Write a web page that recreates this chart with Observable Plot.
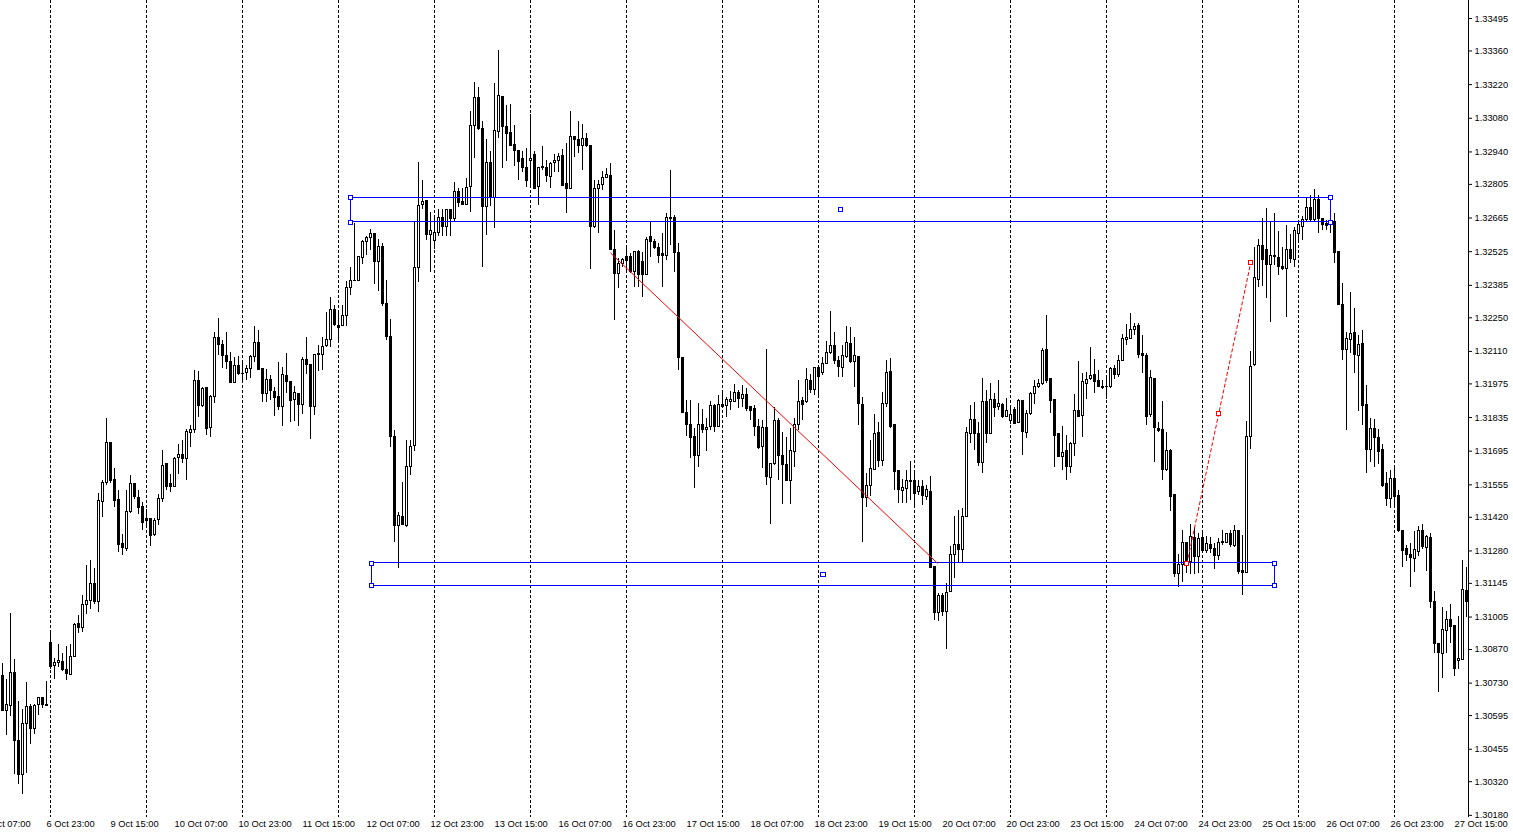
<!DOCTYPE html>
<html><head><meta charset="utf-8">
<script src="https://cdn.jsdelivr.net/npm/d3@7"></script>
<script src="https://cdn.jsdelivr.net/npm/@observablehq/plot@0.6"></script>
<style>body{margin:0;background:#fff;overflow:hidden}</style>
</head><body><div id="chart"></div>
<script>
// ---------- data (hourly bars, first bar = 6 Oct 12:00) ----------
const firstBar = "6 Oct 12:00";
const open = [
1.30761,1.30615,1.30634,1.30774,1.30490,1.30349,1.30561,1.30629,1.30539,1.30640,
1.30670,1.30640,1.30899,1.30802,1.30815,1.30819,1.30783,1.30765,1.30840,1.30974,
1.30960,1.31053,1.31071,1.31142,1.31067,1.31485,1.31562,1.31727,1.31577,1.31490,
1.31307,1.31289,1.31440,1.31557,1.31501,1.31461,1.31411,1.31411,1.31346,1.31410,
1.31495,1.31640,1.31557,1.31545,1.31668,1.31681,1.31664,1.31772,1.31784,1.31989,
1.31882,1.31959,1.31791,1.31919,1.32167,1.32138,1.32090,1.32068,1.31977,1.32050,
1.32018,1.32021,1.32038,1.32085,1.32146,1.32035,1.31934,1.31992,1.31943,1.31919,
1.31878,1.32009,1.31981,1.31909,1.31934,1.31886,1.32075,1.32053,1.31878,1.32099,
1.32096,1.32132,1.32159,1.32283,1.32214,1.32215,1.32258,1.32375,1.32401,1.32404,
1.32498,1.32566,1.32583,1.32600,1.32483,1.32543,1.32308,1.32172,1.31756,1.31384,
1.31423,1.31384,1.31630,1.31716,1.32458,1.32719,1.32735,1.32594,1.32568,1.32602,
1.32666,1.32627,1.32699,1.32659,1.32772,1.32730,1.32719,1.32795,1.33048,1.33163,
1.33035,1.32709,1.32892,1.32749,1.33024,1.33170,1.33045,1.33017,1.32967,1.32945,
1.32909,1.32874,1.32902,1.32928,1.32793,1.32872,1.32874,1.32835,1.32893,1.32903,
1.32925,1.32808,1.32787,1.33004,1.32988,1.32964,1.32992,1.32963,1.32627,1.32787,
1.32803,1.32832,1.32838,1.32533,1.32433,1.32472,1.32502,1.32502,1.32440,1.32523,
1.32484,1.32426,1.32585,1.32567,1.32540,1.32516,1.32509,1.32663,1.32667,1.32520,
1.32082,1.31853,1.31806,1.31753,1.31677,1.31802,1.31784,1.31795,1.31881,1.31795,
1.31889,1.31881,1.31901,1.31901,1.31936,1.31911,1.31927,1.31878,1.31869,1.31795,
1.31712,1.31790,1.31584,1.31643,1.31819,1.31677,1.31639,1.31573,1.31691,1.31805,
1.31902,1.31899,1.31989,1.31951,1.32042,1.32020,1.32059,1.32103,1.32131,1.32072,
1.32042,1.32085,1.32143,1.32065,1.32085,1.31888,1.31501,1.31550,1.31618,1.31772,
1.31656,1.31892,1.32024,1.31802,1.31611,1.31529,1.31539,1.31566,1.31569,1.31525,
1.31548,1.31504,1.31527,1.31213,1.31021,1.31091,1.31025,1.31109,1.31264,1.31306,
1.31285,1.31423,1.31768,1.31823,1.31768,1.31645,1.31898,1.31768,1.31910,1.31878,
1.31889,1.31839,1.31820,1.31867,1.31812,1.31902,1.31772,1.31848,1.31934,1.31964,
1.31976,1.32114,1.31996,1.31906,1.31765,1.31670,1.31694,1.31629,1.31726,1.31864,
1.31842,1.31976,1.31995,1.32014,1.31985,1.31960,1.31960,1.31961,1.32038,1.32014,
1.32072,1.32159,1.32163,1.32200,1.32214,1.32100,1.32093,1.31844,1.31996,1.31788,
1.31785,1.31615,1.31694,1.31511,1.31182,1.31220,1.31314,1.31233,1.31335,1.31254,
1.31335,1.31278,1.31306,1.31289,1.31261,1.31312,1.31312,1.31349,1.31300,1.31365,
1.31195,1.31188,1.31756,1.32052,1.32409,1.32547,1.32534,1.32471,1.32502,1.32500,
1.32463,1.32454,1.32533,1.32491,1.32600,1.32627,1.32658,1.32708,1.32655,1.32738,
1.32662,1.32641,1.32644,1.32648,1.32523,1.32304,1.32114,1.32156,1.32188,1.32089,
1.32142,1.31888,1.31701,1.31788,1.31751,1.31698,1.31560,1.31497,1.31580,1.31507,
1.31361,1.31286,1.31265,1.31248,1.31275,1.31361,1.31292,1.31335,1.31067,1.30891,
1.30852,1.30946,1.30994,1.30966,1.30824,1.30827,1.31113];
const high = [
1.30813,1.30745,1.31019,1.30829,1.30654,1.30621,1.30733,1.30640,1.30640,1.30670,
1.30670,1.30737,1.30949,1.30832,1.30891,1.30854,1.30883,1.30891,1.30977,1.31012,
1.31095,1.31220,1.31240,1.31208,1.31519,1.31573,1.31831,1.31727,1.31622,1.31532,
1.31349,1.31532,1.31594,1.31557,1.31532,1.31483,1.31453,1.31411,1.31414,1.31514,
1.31698,1.31640,1.31598,1.31668,1.31722,1.31740,1.31784,1.31802,1.32031,1.32027,
1.31959,1.31959,1.31927,1.32189,1.32247,1.32156,1.32188,1.32107,1.32086,1.32089,
1.32071,1.32050,1.32093,1.32214,1.32197,1.32040,1.32034,1.32010,1.31961,1.32064,
1.32045,1.32100,1.31982,1.31964,1.31936,1.32086,1.32167,1.32053,1.32096,1.32135,
1.32169,1.32273,1.32335,1.32301,1.32272,1.32300,1.32401,1.32458,1.32644,1.32504,
1.32573,1.32590,1.32619,1.32600,1.32576,1.32558,1.32405,1.32243,1.31780,1.31438,
1.31566,1.31738,1.31738,1.32651,1.32898,1.32820,1.32735,1.32687,1.32668,1.32702,
1.32702,1.32702,1.32699,1.32813,1.32788,1.32788,1.32828,1.33107,1.33229,1.33210,
1.33067,1.32993,1.32942,1.33225,1.33361,1.33170,1.33132,1.33139,1.33050,1.32945,
1.32943,1.32956,1.33095,1.32942,1.32874,1.32963,1.32904,1.32897,1.32928,1.32932,
1.32949,1.32974,1.33108,1.33004,1.33067,1.33053,1.33016,1.32967,1.32821,1.32821,
1.32859,1.32870,1.32891,1.32613,1.32496,1.32496,1.32551,1.32516,1.32523,1.32530,
1.32523,1.32585,1.32645,1.32575,1.32558,1.32600,1.32683,1.32863,1.32676,1.32558,
1.32082,1.31906,1.31906,1.31791,1.31892,1.31867,1.31830,1.31902,1.31888,1.31927,
1.31934,1.31920,1.31945,1.31973,1.31948,1.31968,1.31955,1.31881,1.31885,1.31826,
1.31823,1.32118,1.31643,1.31876,1.31830,1.31774,1.31753,1.31788,1.31830,1.31989,
1.31920,1.32040,1.32014,1.32045,1.32042,1.32086,1.32151,1.32276,1.32188,1.32089,
1.32135,1.32213,1.32211,1.32169,1.32085,1.31920,1.31601,1.31740,1.31847,1.31816,
1.31941,1.32072,1.32080,1.31802,1.31611,1.31577,1.31615,1.31652,1.31601,1.31573,
1.31573,1.31552,1.31590,1.31213,1.31104,1.31102,1.31144,1.31299,1.31423,1.31448,
1.31456,1.31795,1.31885,1.31896,1.31813,1.31996,1.31948,1.31976,1.31934,1.31989,
1.31892,1.31913,1.31878,1.31878,1.31909,1.31906,1.31864,1.31941,1.31989,1.31992,
1.32121,1.32260,1.31996,1.31906,1.31765,1.31799,1.31760,1.31733,1.31931,1.32068,
1.32017,1.32024,1.32128,1.32075,1.32031,1.31989,1.32010,1.32045,1.32052,1.32093,
1.32179,1.32222,1.32267,1.32225,1.32225,1.32176,1.32100,1.32031,1.31996,1.31816,
1.31902,1.31774,1.31702,1.31511,1.31264,1.31365,1.31317,1.31390,1.31379,1.31352,
1.31352,1.31340,1.31337,1.31310,1.31333,1.31365,1.31352,1.31365,1.31386,1.31365,
1.31344,1.31820,1.32111,1.32544,1.32575,1.32662,1.32704,1.32645,1.32683,1.32610,
1.32544,1.32634,1.32597,1.32627,1.32655,1.32671,1.32745,1.32759,1.32783,1.32759,
1.32662,1.32655,1.32648,1.32683,1.32523,1.32392,1.32190,1.32357,1.32288,1.32176,
1.32197,1.31968,1.31830,1.31826,1.31784,1.31723,1.31608,1.31615,1.31622,1.31532,
1.31361,1.31303,1.31310,1.31362,1.31382,1.31390,1.31344,1.31354,1.31113,1.30894,
1.31046,1.31028,1.31057,1.30970,1.31009,1.31240,1.31213];
const low = [
1.30612,1.30512,1.30593,1.30351,1.30310,1.30268,1.30356,1.30476,1.30515,1.30596,
1.30623,1.30634,1.30787,1.30745,1.30797,1.30777,1.30742,1.30765,1.30840,1.30936,
1.30940,1.31015,1.31037,1.31056,1.31025,1.31421,1.31551,1.31560,1.31460,1.31275,
1.31260,1.31279,1.31437,1.31495,1.31433,1.31365,1.31386,1.31300,1.31342,1.31387,
1.31483,1.31532,1.31525,1.31543,1.31598,1.31643,1.31573,1.31712,1.31768,1.31837,
1.31878,1.31759,1.31751,1.31892,1.32093,1.32038,1.32035,1.31980,1.31976,1.32010,
1.31989,1.31989,1.31999,1.32065,1.32032,1.31896,1.31899,1.31906,1.31841,1.31864,
1.31798,1.31934,1.31813,1.31820,1.31798,1.31848,1.32014,1.31745,1.31844,1.32027,
1.32031,1.32128,1.32128,1.32214,1.32157,1.32212,1.32215,1.32344,1.32399,1.32401,
1.32470,1.32508,1.32530,1.32389,1.32358,1.32296,1.32154,1.31709,1.31317,1.31205,
1.31384,1.31376,1.31592,1.31692,1.32398,1.32699,1.32573,1.32439,1.32532,1.32587,
1.32587,1.32587,1.32587,1.32651,1.32709,1.32716,1.32716,1.32687,1.32914,1.33031,
1.32458,1.32594,1.32713,1.32623,1.32996,1.32871,1.32902,1.32964,1.32878,1.32820,
1.32856,1.32793,1.32787,1.32784,1.32717,1.32863,1.32814,1.32789,1.32856,1.32856,
1.32800,1.32683,1.32787,1.32918,1.32935,1.32863,1.32960,1.32451,1.32623,1.32600,
1.32780,1.32828,1.32530,1.32239,1.32371,1.32461,1.32447,1.32433,1.32377,1.32377,
1.32333,1.32425,1.32502,1.32533,1.32475,1.32375,1.32488,1.32551,1.32440,1.32031,
1.31851,1.31756,1.31664,1.31539,1.31629,1.31768,1.31695,1.31781,1.31774,1.31795,
1.31872,1.31834,1.31864,1.31899,1.31872,1.31876,1.31862,1.31823,1.31758,1.31701,
1.31622,1.31552,1.31390,1.31636,1.31573,1.31473,1.31573,1.31473,1.31629,1.31781,
1.31823,1.31892,1.31934,1.31927,1.31920,1.32010,1.32056,1.32097,1.32056,1.32003,
1.32003,1.32081,1.32060,1.31961,1.31802,1.31317,1.31462,1.31508,1.31615,1.31629,
1.31631,1.31876,1.31791,1.31532,1.31479,1.31479,1.31479,1.31490,1.31462,1.31511,
1.31469,1.31490,1.31206,1.30991,1.30988,1.31007,1.30869,1.31109,1.31164,1.31233,
1.31233,1.31418,1.31728,1.31698,1.31631,1.31601,1.31726,1.31768,1.31834,1.31864,
1.31830,1.31837,1.31806,1.31806,1.31809,1.31677,1.31747,1.31844,1.31888,1.31955,
1.31968,1.31978,1.31853,1.31629,1.31670,1.31615,1.31573,1.31604,1.31673,1.31834,
1.31753,1.31909,1.31989,1.31934,1.31959,1.31951,1.31909,1.31955,1.31992,1.32003,
1.32068,1.32135,1.32159,1.32176,1.32080,1.32017,1.31802,1.31837,1.31649,1.31774,
1.31573,1.31612,1.31446,1.31171,1.31127,1.31150,1.31185,1.31182,1.31181,1.31185,
1.31275,1.31271,1.31268,1.31202,1.31240,1.31303,1.31310,1.31293,1.31296,1.31182,
1.31095,1.31188,1.31701,1.32047,1.32377,1.32380,1.32329,1.32232,1.32468,1.32426,
1.32447,1.32253,1.32475,1.32458,1.32572,1.32572,1.32648,1.32648,1.32648,1.32600,
1.32613,1.32613,1.32600,1.32477,1.32301,1.32072,1.31781,1.32100,1.32020,1.31862,
1.31802,1.31604,1.31649,1.31626,1.31640,1.31543,1.31465,1.31458,1.31456,1.31358,
1.31213,1.31238,1.31127,1.31192,1.31257,1.31285,1.31196,1.31042,1.30852,1.30692,
1.30748,1.30852,1.30894,1.30759,1.30786,1.30824,1.31005];
const close = [
1.30616,1.30640,1.30774,1.30490,1.30349,1.30561,1.30629,1.30539,1.30636,1.30670,
1.30640,1.30634,1.30797,1.30812,1.30823,1.30786,1.30766,1.30840,1.30970,1.30960,
1.31053,1.31073,1.31142,1.31067,1.31486,1.31561,1.31727,1.31573,1.31489,1.31304,
1.31292,1.31444,1.31557,1.31503,1.31458,1.31396,1.31404,1.31342,1.31406,1.31497,
1.31634,1.31548,1.31545,1.31664,1.31680,1.31662,1.31776,1.31784,1.31989,1.31882,
1.31955,1.31788,1.31919,1.32167,1.32138,1.32090,1.32065,1.31980,1.32050,1.32015,
1.32016,1.32038,1.32085,1.32146,1.32032,1.31934,1.31992,1.31945,1.31916,1.31878,
1.32014,1.31981,1.31903,1.31939,1.31886,1.32075,1.32053,1.31878,1.32096,1.32096,
1.32128,1.32159,1.32283,1.32218,1.32208,1.32258,1.32372,1.32404,1.32405,1.32504,
1.32566,1.32583,1.32600,1.32483,1.32545,1.32308,1.32172,1.31756,1.31384,1.31427,
1.31388,1.31630,1.31713,1.32458,1.32716,1.32730,1.32594,1.32611,1.32604,1.32666,
1.32627,1.32699,1.32659,1.32772,1.32728,1.32719,1.32790,1.33048,1.33163,1.33035,
1.32709,1.32892,1.32749,1.33028,1.33174,1.33042,1.33014,1.32964,1.32942,1.32899,
1.32874,1.32821,1.32912,1.32787,1.32874,1.32877,1.32838,1.32891,1.32903,1.32918,
1.32800,1.32787,1.33004,1.32988,1.32964,1.32995,1.32964,1.32627,1.32787,1.32803,
1.32832,1.32842,1.32530,1.32433,1.32472,1.32491,1.32488,1.32440,1.32523,1.32426,
1.32426,1.32575,1.32565,1.32540,1.32509,1.32509,1.32667,1.32667,1.32520,1.32082,
1.31853,1.31805,1.31749,1.31677,1.31805,1.31784,1.31792,1.31881,1.31795,1.31889,
1.31878,1.31906,1.31909,1.31939,1.31911,1.31927,1.31869,1.31864,1.31795,1.31709,
1.31790,1.31587,1.31643,1.31819,1.31677,1.31636,1.31573,1.31694,1.31805,1.31899,
1.31888,1.31992,1.31951,1.32042,1.32003,1.32059,1.32104,1.32131,1.32072,1.32045,
1.32089,1.32146,1.32065,1.32089,1.31892,1.31500,1.31552,1.31622,1.31768,1.31656,
1.31892,1.32020,1.31795,1.31608,1.31532,1.31541,1.31573,1.31573,1.31518,1.31548,
1.31507,1.31532,1.31210,1.31021,1.31091,1.31025,1.31104,1.31264,1.31306,1.31285,
1.31423,1.31772,1.31823,1.31768,1.31645,1.31898,1.31768,1.31910,1.31876,1.31892,
1.31839,1.31864,1.31844,1.31809,1.31902,1.31774,1.31851,1.31934,1.31964,1.31976,
1.32110,1.31989,1.31903,1.31760,1.31670,1.31688,1.31629,1.31726,1.31864,1.31837,
1.31981,1.31992,1.32009,1.31982,1.31961,1.31958,1.31962,1.32038,1.32010,1.32072,
1.32163,1.32167,1.32200,1.32211,1.32096,1.32093,1.31839,1.32000,1.31792,1.31778,
1.31618,1.31694,1.31504,1.31182,1.31220,1.31314,1.31233,1.31337,1.31254,1.31331,
1.31279,1.31307,1.31289,1.31261,1.31314,1.31319,1.31349,1.31303,1.31365,1.31192,
1.31188,1.31756,1.32047,1.32416,1.32547,1.32491,1.32471,1.32505,1.32505,1.32461,
1.32454,1.32533,1.32496,1.32613,1.32638,1.32658,1.32708,1.32658,1.32738,1.32659,
1.32634,1.32631,1.32647,1.32519,1.32304,1.32114,1.32163,1.32184,1.32096,1.32138,
1.31885,1.31701,1.31788,1.31749,1.31691,1.31552,1.31497,1.31580,1.31504,1.31365,
1.31279,1.31264,1.31252,1.31285,1.31361,1.31296,1.31337,1.31067,1.30891,1.30855,
1.30949,1.30994,1.30963,1.30787,1.30832,1.31116,1.31067];

const priceTicks = [1.33495,1.33360,1.33220,1.33080,1.32940,1.32805,1.32665,1.32525,1.32385,
  1.32250,1.32110,1.31975,1.31835,1.31695,1.31555,1.31420,1.31280,1.31145,1.31005,1.30870,
  1.30730,1.30595,1.30455,1.30320,1.30180];
const timeLabels = ["6 Oct 07:00","6 Oct 23:00","9 Oct 15:00","10 Oct 07:00","10 Oct 23:00",
  "11 Oct 15:00","12 Oct 07:00","12 Oct 23:00","13 Oct 15:00","16 Oct 07:00","16 Oct 23:00",
  "17 Oct 15:00","18 Oct 07:00","18 Oct 23:00","19 Oct 15:00","20 Oct 07:00","20 Oct 23:00",
  "23 Oct 15:00","24 Oct 07:00","24 Oct 23:00","25 Oct 15:00","26 Oct 07:00","26 Oct 23:00",
  "27 Oct 15:00"];
const separatorDays = ["9 Oct","10 Oct","11 Oct","12 Oct","13 Oct","16 Oct","17 Oct","18 Oct",
  "19 Oct","20 Oct","23 Oct","24 Oct","25 Oct","26 Oct","27 Oct"];
const priceWindow = [1.30171, 1.33570];

// drawn objects (time / price anchors)
const rectangles = [
  {t1: "12 Oct 03:00", t2: "26 Oct 08:00", p1: 1.32750, p2: 1.32647},
  {t1: "12 Oct 08:15", t2: "25 Oct 18:00", p1: 1.31228, p2: 1.31136}
];
const trendLines = [
  {t1: "16 Oct 20:00", p1: 1.32520, t2: "20 Oct 05:48", p2: 1.31228, dashed: false, selected: false},
  {t1: "24 Oct 20:06", p1: 1.31227, t2: "25 Oct 12:04", p2: 1.32479, dashed: true, selected: true}
];

// ---------- helpers ----------
const MONTHS = {Oct: 9};
const HOUR = 3600e3;
function parseTime(s) {
  const m = s.match(/(\d+) (\w+) (\d+):(\d+)/);
  return Date.UTC(2017, MONTHS[m[2]], +m[1], +m[3], +m[4]);
}
const isTrading = t => { const d = new Date(t).getUTCDay(); return d !== 0 && d !== 6; };
function barIndex(s) {
  const t = parseTime(s), t0 = parseTime(firstBar);
  let n = 0, u = t0;
  while (u + HOUR <= t) { if (isTrading(u)) n++; u += HOUR; }
  while (u > t) { u -= HOUR; if (isTrading(u)) n--; }
  return n + (t - u) / HOUR;
}

const bars = open.map((o, i) => ({i, open: o, high: high[i], low: low[i], close: close[i]}));
const bull = bars.filter(d => d.close >= d.open);
const bear = bars.filter(d => d.close < d.open);
const n = bars.length;

const rects = rectangles.map(r => ({x1: barIndex(r.t1), x2: barIndex(r.t2), y1: r.p1, y2: r.p2}));
const lines = trendLines.map(l => ({...l, x1: barIndex(l.t1), x2: barIndex(l.t2)}));
const handles = [];
rects.forEach(r => {
  handles.push({x: r.x1, y: r.y1, c: "#0000ff"}, {x: r.x1, y: r.y2, c: "#0000ff"},
               {x: r.x2, y: r.y1, c: "#0000ff"}, {x: r.x2, y: r.y2, c: "#0000ff"},
               {x: (r.x1 + r.x2) / 2, y: (r.y1 + r.y2) / 2, c: "#0000ff"});
});
lines.filter(l => l.selected).forEach(l => {
  handles.push({x: l.x1, y: l.p1, c: "#ff0000"}, {x: l.x2, y: l.p2, c: "#ff0000"},
               {x: (l.x1 + l.x2) / 2, y: (l.p1 + l.p2) / 2, c: "#ff0000"});
});

const chart = Plot.plot({
  width: 1513, height: 834,
  marginTop: 0, marginLeft: 0, marginRight: 45, marginBottom: 17,
  style: {fontFamily: "'Liberation Sans', Arial, sans-serif", fontSize: "9.3px", background: "#fff", color: "#000"},
  x: {type: "linear", domain: [-0.5, n - 0.5], axis: null},
  y: {type: "linear", domain: priceWindow, axis: null},
  marks: [
    Plot.ruleX(separatorDays.map(d => barIndex(d + " 00:00")), {stroke: "#000", strokeDasharray: "3,2", shapeRendering: "crispEdges"}),
    Plot.ruleX(bars, {x: "i", y1: "low", y2: "high", stroke: "#000", shapeRendering: "crispEdges"}),
    Plot.rect(bear, {x1: d => d.i - 0.25, x2: d => d.i + 0.25, y1: "open", y2: "close", fill: "#000", stroke: "#000", strokeWidth: 1, shapeRendering: "crispEdges"}),
    Plot.rect(bull, {x1: d => d.i - 0.25, x2: d => d.i + 0.25, y1: "open", y2: "close", fill: "#fff", stroke: "#000", strokeWidth: 1, shapeRendering: "crispEdges"}),
    Plot.rect(rects, {x1: "x1", x2: "x2", y1: "y1", y2: "y2", fill: "none", stroke: "#0000ff", strokeWidth: 1, shapeRendering: "crispEdges"}),
    Plot.link(lines.filter(l => !l.dashed), {x1: "x1", y1: "p1", x2: "x2", y2: "p2", stroke: "#ff0000", strokeWidth: 1}),
    Plot.link(lines.filter(l => l.dashed), {x1: "x1", y1: "p1", x2: "x2", y2: "p2", stroke: "#ff0000", strokeWidth: 1, strokeDasharray: "4,2"}),
    Plot.dot(handles, {x: "x", y: "y", symbol: "square", r: 2.26, fill: "#fff", stroke: d => d.c, strokeWidth: 1, shapeRendering: "crispEdges"}),
    Plot.ruleX([n - 0.5], {stroke: "#000", shapeRendering: "crispEdges"}),
    Plot.axisY(priceTicks, {anchor: "right", tickSize: 3, tickPadding: 3, tickFormat: d => d.toFixed(5), label: null, fontSize: 9.3}),
    Plot.text(timeLabels, {x: d => barIndex(d), text: d => d, frameAnchor: "bottom", dy: 9, textAnchor: "start", fontSize: 9.3})
  ]
});
document.getElementById("chart").appendChild(chart);
</script>
</body></html>
